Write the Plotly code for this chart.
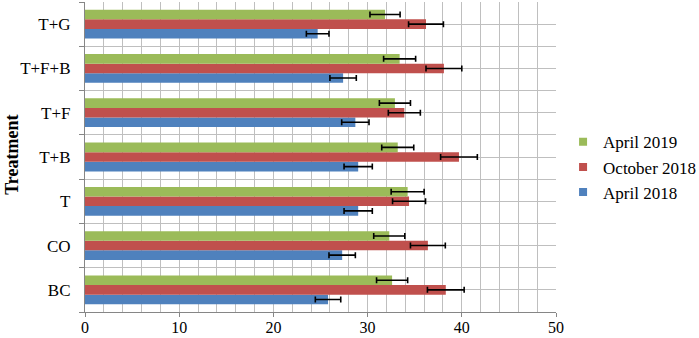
import plotly.graph_objects as go

categories = ["BC", "CO", "T", "T+B", "T+F", "T+F+B", "T+G"]
apr2018 = [25.8, 27.3, 29.0, 29.0, 28.7, 27.4, 24.7]
apr2018_err = [1.35, 1.4, 1.5, 1.5, 1.45, 1.4, 1.2]
oct2018 = [38.3, 36.4, 34.4, 39.7, 33.9, 38.1, 36.2]
oct2018_err = [1.95, 1.85, 1.75, 1.95, 1.7, 1.9, 1.85]
apr2019 = [32.6, 32.3, 34.25, 33.2, 32.9, 33.4, 31.85]
apr2019_err = [1.65, 1.65, 1.75, 1.7, 1.65, 1.7, 1.6]
x_ticks = [0, 10, 20, 30, 40, 50]

series = [
    ("April 2018", apr2018, apr2018_err, "#4F81BD"),
    ("October 2018", oct2018, oct2018_err, "#C0504D"),
    ("April 2019", apr2019, apr2019_err, "#9BBB59"),
]

ypos = list(range(len(categories)))
FONT = "Liberation Serif, Times New Roman, serif"

fig = go.Figure()
for name, vals, errs, color in series:
    fig.add_trace(go.Bar(
        y=ypos, x=vals, orientation="h", name=name,
        marker=dict(color=color, line=dict(width=0)),
        error_x=dict(type="data", array=errs, visible=True,
                     color="black", thickness=1.6, width=3),
        showlegend=False,
    ))

# legend entries (small squares), top to bottom
for name, vals, errs, color in reversed(series):
    fig.add_trace(go.Scatter(
        x=[None], y=[None], mode="markers", name=name,
        marker=dict(symbol="square", size=8, color=color),
        showlegend=True,
    ))

fig.update_layout(
    width=699, height=338,
    margin=dict(l=85, r=143, t=2, b=26, autoexpand=False),
    paper_bgcolor="white", plot_bgcolor="white",
    barmode="group", bargap=0.35, bargroupgap=0,
    font=dict(family=FONT, size=17, color="black"),
    legend=dict(x=1.015, xanchor="left", y=0.467, yanchor="middle",
                font=dict(family=FONT, size=17, color="black"),
                itemwidth=30, tracegroupgap=0, bgcolor="rgba(0,0,0,0)"),
    xaxis=dict(
        range=[0, 50], tickvals=x_ticks, ticktext=[str(v) for v in x_ticks],
        showgrid=True, gridcolor="#bfbfbf", gridwidth=1.3,
        ticks="outside", ticklen=4, tickcolor="#868686", tickwidth=1,
        showline=True, linecolor="#868686", linewidth=1.2,
        zeroline=False, automargin=False,
        minor=dict(dtick=2, tick0=0, showgrid=True, gridcolor="#bfbfbf",
                   gridwidth=1.3, ticks=""),
        tickfont=dict(family=FONT, size=16, color="black"),
        ticklabelstandoff=-3,
        fixedrange=True,
    ),
    yaxis=dict(
        range=[-0.5, 6.5], tickvals=ypos, ticktext=categories,
        showgrid=True, gridcolor="#bfbfbf", gridwidth=1.3,
        ticks="", showline=True, linecolor="#868686", linewidth=1.2,
        zeroline=False, automargin=False,
        minor=dict(tick0=-0.5, dtick=1, showgrid=True, gridcolor="#bfbfbf",
                   gridwidth=1.3, ticks="outside", ticklen=5,
                   tickcolor="#868686", tickwidth=1),
        tickfont=dict(family=FONT, size=17, color="black"),
        ticklabelstandoff=10,
        fixedrange=True,
    ),
    annotations=[dict(
        text="<b>Treatment</b>", textangle=-90, xref="paper", yref="paper",
        x=-0.155, y=0.507, xanchor="center", yanchor="middle",
        borderpad=0,
        showarrow=False, font=dict(family=FONT, size=18, color="black"),
    )],
)

fig.write_html(
    "out.html",
    config={"displayModeBar": False},
    post_script="document.body.style.margin='0';document.body.style.padding='0';",
)
